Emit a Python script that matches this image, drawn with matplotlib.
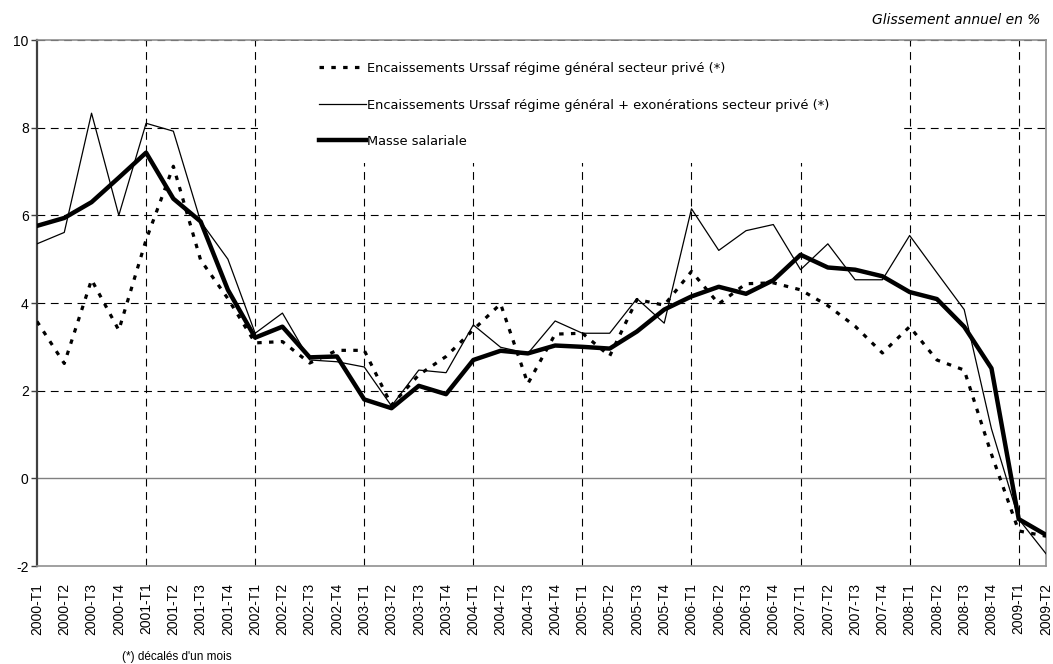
import matplotlib
matplotlib.use("Agg")
import matplotlib.pyplot as plt
from matplotlib.patches import Rectangle

# Quarters 2000-T1 .. 2009-T2
quarters = [f"{y}-T{q}" for y in range(2000, 2010) for q in range(1, 5)][:38]

# Encaissements Urssaf regime general secteur prive (*)
urssaf = [3.58, 2.62, 4.53, 3.38, 5.44, 7.12, 4.98, 4.10, 3.09, 3.12,
          2.63, 2.92, 2.92, 1.67, 2.36, 2.78, 3.39, 3.98, 2.16, 3.29,
          3.31, 2.79, 4.08, 3.95, 4.72, 3.98, 4.44, 4.46, 4.30, 3.94,
          3.47, 2.86, 3.46, 2.70, 2.47, 0.55, -1.20, -1.32]

# Encaissements Urssaf regime general + exonerations secteur prive (*)
urssaf_exo = [5.35, 5.61, 8.33, 6.00, 8.10, 7.92, 5.86, 5.00, 3.31, 3.77,
              2.70, 2.66, 2.54, 1.65, 2.47, 2.41, 3.50, 2.99, 2.85, 3.59,
              3.31, 3.31, 4.10, 3.54, 6.15, 5.20, 5.65, 5.79, 4.76, 5.35,
              4.53, 4.53, 5.54, 4.69, 3.85, 1.13, -0.93, -1.72]

# Masse salariale
masse = [5.76, 5.94, 6.30, 6.86, 7.43, 6.38, 5.86, 4.30, 3.21, 3.46,
         2.76, 2.78, 1.80, 1.60, 2.11, 1.92, 2.70, 2.91, 2.85, 3.03,
         3.00, 2.96, 3.35, 3.85, 4.15, 4.37, 4.21, 4.52, 5.10, 4.81,
         4.76, 4.61, 4.25, 4.09, 3.46, 2.51, -0.93, -1.29]

yticks = [-2, 0, 2, 4, 6, 8, 10]

fig = plt.figure(figsize=(10.53, 6.64), dpi=100)
ax = fig.add_axes([37 / 1053, 1 - 566 / 664, (1046 - 37) / 1053, (566 - 40) / 664])

x = list(range(len(quarters)))

# grid
grid_dash = (0, (7, 5))
for v in yticks[2:]:
    ax.axhline(v, color="black", lw=0.8, ls=grid_dash, zorder=0.5)
for i in range(4, len(quarters), 4):
    ax.axvline(i, color="black", lw=0.8, ls=grid_dash, zorder=0.5)
ax.axhline(0, color="#808080", lw=1.0, zorder=0.6)

# white legend area hiding the grid
ax.add_patch(Rectangle((8.1, 7.2), 31.6 - 8.1, 2.78, facecolor="white",
                       edgecolor="none", zorder=1))

ax.plot(x, urssaf, color="black", lw=2.3, ls=(0, (1.4, 2.3)),
        dash_capstyle="butt", zorder=3,
        label="Encaissements Urssaf régime général secteur privé (*)")
ax.plot(x, urssaf_exo, color="black", lw=0.9, zorder=3,
        label="Encaissements Urssaf régime général + exonérations secteur privé (*)")
ax.plot(x, masse, color="black", lw=3.2, zorder=4, label="Masse salariale")

ax.set_xlim(0, len(quarters) - 1)
ax.set_ylim(-2, 10)
ax.set_yticks(yticks)
ax.set_yticklabels([str(v) for v in yticks], fontsize=10, family="Liberation Sans")
ax.set_xticks(x)
ax.set_xticklabels(quarters, rotation=90, fontsize=10, family="Liberation Sans")
ax.tick_params(axis="x", length=0, pad=12)
ax.tick_params(axis="y", length=4, width=1, color="#404040", pad=2)

for side in ["top", "right", "bottom"]:
    ax.spines[side].set_color("#909090")
    ax.spines[side].set_linewidth(1.2)
ax.spines["left"].set_color("#404040")
ax.spines["left"].set_linewidth(1.6)

leg = ax.legend(loc="upper left", bbox_to_anchor=(0.2745, 0.968), frameon=False,
                prop={"family": "DejaVu Sans", "size": 9.4}, handlelength=3.6,
                handletextpad=0.05, labelspacing=1.8, borderaxespad=0)

fig.text(1040 / 1053, 1 - 20 / 664, "Glissement annuel en %", ha="right",
         va="center", style="italic", fontsize=10, family="DejaVu Sans")
fig.text(122 / 1053, 1 - 657 / 664, "(*) décalés d'un mois", ha="left",
         va="center", fontsize=8.5, family="Liberation Sans")

fig.savefig("out.png", dpi=100)
